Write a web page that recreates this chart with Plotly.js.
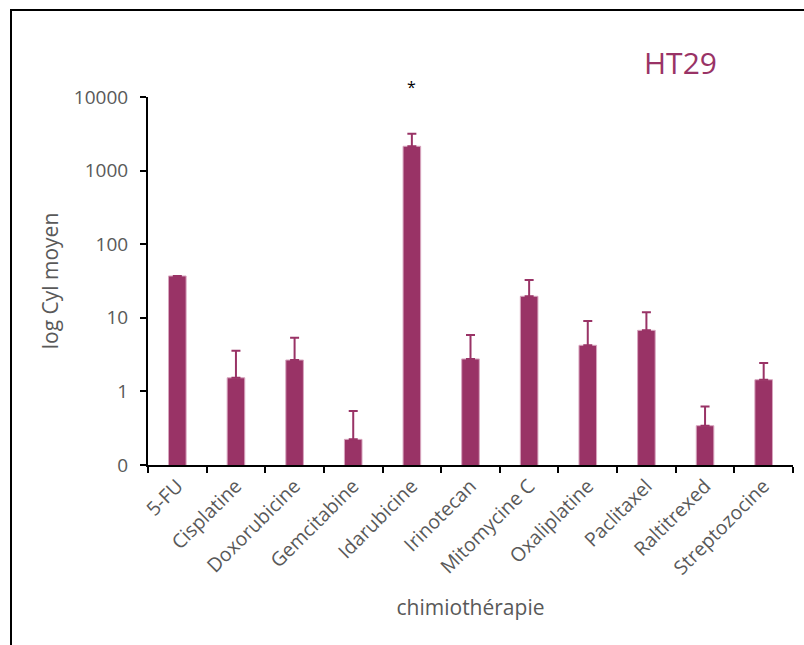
<!DOCTYPE html>
<html>
<head>
<meta charset="utf-8">
<script src="https://cdn.plot.ly/plotly-3.0.1.min.js"></script>
<style>
  html, body { margin: 0; padding: 0; background: #fff; }
  #wrap { position: relative; width: 804px; height: 645px; }
  #chart { position: absolute; left: 0; top: 0; width: 804px; height: 645px; }
  #frame { position: absolute; left: 10px; top: 9px; width: 794px; height: 636px;
           border-top: 2px solid #000; border-left: 2px solid #000; box-sizing: border-box; pointer-events: none; }
</style>
</head>
<body>
<div id="wrap">
  <div id="chart"></div>
  <div id="frame"></div>
</div>
<script>
const categories = ["5-FU", "Cisplatine", "Doxorubicine", "Gemcitabine", "Idarubicine", "Irinotecan",
                    "Mitomycine C", "Oxaliplatine", "Paclitaxel", "Raltitrexed", "Streptozocine"];
const meanValues = [37, 1.53, 2.67, 0.223, 2140, 2.76, 19.6, 4.23, 6.76, 0.342, 1.44];
const errorPlus  = [0, 2.04, 2.70, 0.32, 1030, 3.08, 13.0, 4.8, 5.1, 0.28, 1.0];
const errorMinus = [0, 0, 0, 0, 0, 0, 0, 0, 0, 0, 0];
const yTickVals  = [0.1, 1, 10, 100, 1000, 10000];
const yTickText  = ["0", "1", "10", "100", "1000", "10000"];
const chartTitle = "HT29";
const xTitle = "chimiothérapie";
const yTitle = "log Cyl moyen";
const starCategory = "Idarubicine";
const starLabel = "*";

const barColor = "#993366";
const grey = "#595959";
const font = "Open Sans, sans-serif";

const trace = {
  type: "bar",
  x: categories,
  y: meanValues,
  marker: { color: barColor, line: { color: "#d8a6bf", width: 1 } },
  error_y: {
    type: "data", symmetric: false, array: errorPlus, arrayminus: errorMinus,
    color: barColor, thickness: 2, width: 4.5
  },
  hoverinfo: "x+y"
};

const layout = {
  width: 804, height: 645,
  margin: { l: 148, r: 11, t: 97, b: 180 },
  paper_bgcolor: "#fff", plot_bgcolor: "#fff",
  showlegend: false,
  bargap: 0.7,
  font: { family: font, color: grey, size: 19 },
  xaxis: {
    type: "category",
    range: [-0.5, 10.5],
    showline: true, linecolor: "#000", linewidth: 2,
    ticks: "outside", tickson: "boundaries", ticklen: 6, tickwidth: 2, tickcolor: "#000",
    tickangle: -45,
    tickfont: { family: font, size: 19.5, color: grey },
    showgrid: false, zeroline: false,
    title: { text: xTitle, font: { family: font, size: 21, color: grey }, standoff: 21 },
    automargin: false
  },
  yaxis: {
    type: "log",
    range: [-1, 4],
    showline: true, linecolor: "#000", linewidth: 2,
    ticks: "outside", ticklen: 6, tickwidth: 2, tickcolor: "#000",
    tickvals: yTickVals, ticktext: yTickText,
    tickfont: { family: font, size: 19, color: grey },
    ticklabelstandoff: 8,
    showgrid: false, zeroline: false,
    title: { text: yTitle, font: { family: font, size: 21, color: grey }, standoff: 10 },
    automargin: false
  },
  annotations: [
    { text: chartTitle, xref: "paper", yref: "paper", x: 0.826, y: 1.095, xanchor: "center", yanchor: "middle",
      showarrow: false, font: { family: font, size: 30, color: barColor } },
    { text: starLabel, xref: "x", yref: "paper", x: starCategory, y: 1.028, xanchor: "center", yanchor: "middle",
      showarrow: false, font: { family: font, size: 16, color: "#000" } }
  ]
};

Plotly.newPlot("chart", [trace], layout, { displayModeBar: false, staticPlot: true });
</script>
</body>
</html>
